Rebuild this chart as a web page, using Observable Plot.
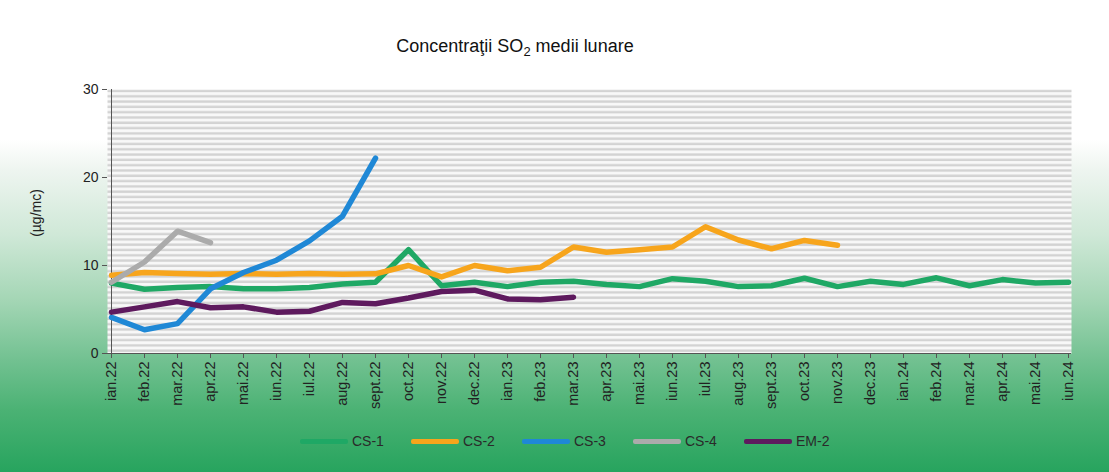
<!DOCTYPE html>
<html>
<head>
<meta charset="utf-8">
<script src="https://cdn.jsdelivr.net/npm/d3@7"></script>
<script src="https://cdn.jsdelivr.net/npm/@observablehq/plot@0.6"></script>
<style>
  html, body { margin: 0; padding: 0; }
  body { width: 1109px; height: 472px; overflow: hidden; font-family: "Liberation Sans", Arial, sans-serif; }
  #wrap {
    position: relative; width: 1109px; height: 472px;
    background: linear-gradient(to bottom, #ffffff 0px, #ffffff 140px, #eef5f0 170px, #cfe8d7 235px, #a4d6b5 300px, #72c191 360px, #4bb274 410px, #27a45e 472px);
  }
  #title { position: absolute; left: 0; width: 1030px; top: 36px; text-align: center; font-size: 18px; color: #111; }
  #title sub { font-size: 13px; vertical-align: -4px; line-height: 0; }
  #chart { position: absolute; left: 0; top: 0; }
  #ylab { position: absolute; left: 36px; top: 213px; transform: translate(-50%, -50%) rotate(-90deg); font-size: 14px; color: #222; white-space: nowrap; }
  .leg { position: absolute; top: 433px; height: 16px; display: flex; align-items: center; font-size: 14px; color: #2a2a2a; }
  .leg span.sw { display: inline-block; width: 48px; height: 5px; margin-right: 4px; border-radius: 2px; }
</style>
</head>
<body>
<div id="wrap">
  <div id="chart"></div>
  <div id="title">Concentraţii SO<sub>2</sub> medii lunare</div>
  <div id="ylab">(µg/mc)</div>
  <div id="legend"></div>
</div>
<script>
const months = ["ian.22","feb.22","mar.22","apr.22","mai.22","iun.22","iul.22","aug.22","sept.22","oct.22","nov.22","dec.22",
  "ian.23","feb.23","mar.23","apr.23","mai.23","iun.23","iul.23","aug.23","sept.23","oct.23","nov.23","dec.23",
  "ian.24","feb.24","mar.24","apr.24","mai.24","iun.24"];
const seriesNames = ["CS-1","CS-2","CS-3","CS-4","EM-2"];
const seriesColors = ["#1fa865","#f7a51c","#1f88d6","#ababab","#5e1a5e"];
const cs1 = [8.0,7.3,7.5,7.6,7.35,7.35,7.5,7.9,8.1,11.8,7.7,8.1,7.6,8.1,8.2,7.85,7.6,8.5,8.2,7.6,7.7,8.55,7.6,8.2,7.85,8.6,7.7,8.4,8.0,8.1];
const cs2 = [8.9,9.2,9.1,9.0,9.1,9.0,9.1,9.0,9.05,10.0,8.7,10.0,9.4,9.8,12.1,11.5,11.8,12.1,14.4,12.9,11.9,12.85,12.3];
const cs3 = [4.1,2.7,3.4,7.35,9.2,10.6,12.8,15.6,22.2];
const cs4 = [8.1,10.4,13.9,12.6];
const em2 = [4.7,5.3,5.9,5.2,5.3,4.7,4.8,5.8,5.65,6.3,7.05,7.2,6.2,6.1,6.4];
const yTicks = [0,10,20,30];

const allSeries = [cs1, cs2, cs3, cs4, em2];
const rows = [];
allSeries.forEach((vals, si) => vals.forEach((v, i) => rows.push({series: seriesNames[si], month: months[i], value: v})));

const plot = Plot.plot({
  width: 1109,
  height: 472,
  marginTop: 89,
  marginBottom: 119,
  marginLeft: 107,
  marginRight: 38,
  style: {background: "transparent", fontFamily: "'Liberation Sans', Arial, sans-serif", color: "#222"},
  x: {type: "point", domain: months, padding: 0},
  y: {domain: [0, 30]},
  color: {domain: seriesNames, range: seriesColors},
  marks: [
    Plot.frame({fill: "url(#stripes)", stroke: null}),
    Plot.ruleY([0], {stroke: "#555", strokeWidth: 1}),
    Plot.ruleX([months[0]], {y1: 0, y2: 30, stroke: "#555", strokeWidth: 1}),
    ...seriesNames.map(s => Plot.line(rows.filter(d => d.series === s), {
      x: "month", y: "value", stroke: "series", strokeWidth: 5.5, strokeLinejoin: "round", strokeLinecap: "round"
    })),
    Plot.axisY({ticks: yTicks, tickSize: 5, tickPadding: 4, fontSize: 14, label: null, stroke: "#555"}),
    Plot.axisX({tickRotate: -90, tickSize: 5, tickPadding: 3, fontSize: 14.5, label: null, stroke: "#555"})
  ]
});

// striped plot background pattern
const svg = d3.select(plot);
const defs = svg.insert("defs", ":first-child");
const pat = defs.append("pattern").attr("id", "stripes").attr("patternUnits", "userSpaceOnUse")
  .attr("x", 0).attr("y", 89).attr("width", 10).attr("height", 5.3);
pat.append("rect").attr("width", 10).attr("height", 5.3).attr("fill", "#f8f8f8");
pat.append("rect").attr("y", 0.3).attr("width", 10).attr("height", 2.4).attr("fill", "#d3d3d3");

document.getElementById("chart").appendChild(plot);

// legend
const legend = document.getElementById("legend");
seriesNames.forEach((s, i) => {
  const el = document.createElement("div");
  el.className = "leg";
  el.style.left = (300 + i * 111) + "px";
  el.innerHTML = `<span class="sw" style="background:${seriesColors[i]}"></span>${s}`;
  legend.appendChild(el);
});
</script>
</body>
</html>
